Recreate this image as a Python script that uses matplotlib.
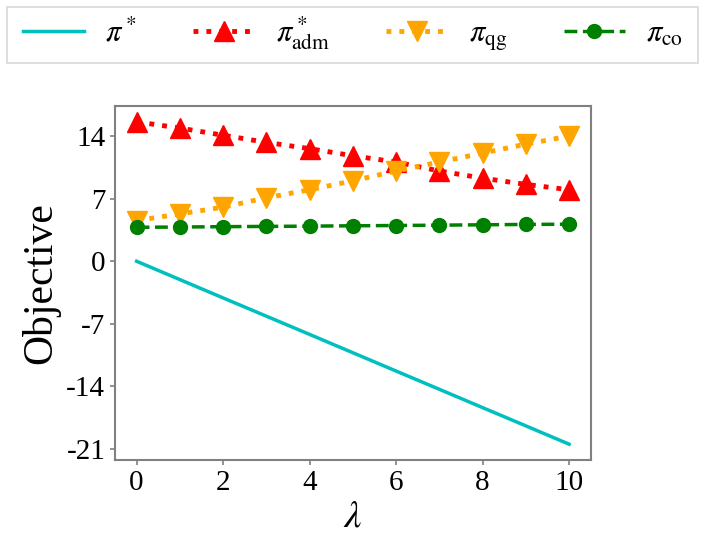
import matplotlib
matplotlib.use('Agg')
import matplotlib.pyplot as plt
from matplotlib.patches import Rectangle

lam = [0, 1, 2, 3, 4, 5, 6, 7, 8, 9, 10]
pi_star = [0, -2.05, -4.1, -6.14, -8.18, -10.23, -12.28, -14.32, -16.37, -18.41, -20.46]
pi_adm = [15.6, 14.9, 14.1, 13.3, 12.6, 11.8, 11.1, 10.1, 9.3, 8.6, 8.0]
pi_qg = [4.55, 5.3, 6.05, 7.1, 8.0, 9.0, 10.1, 11.1, 12.1, 13.1, 14.0]
pi_co = [3.8, 3.83, 3.87, 3.9, 3.93, 3.97, 4.0, 4.04, 4.08, 4.12, 4.15]
yticks = [14, 7, 0, -7, -14, -21]

plt.rcParams['font.family'] = ['Liberation Serif', 'DejaVu Serif']
plt.rcParams['mathtext.fontset'] = 'stix'

W, H = 706, 545
fig = plt.figure(figsize=(W / 100, H / 100), dpi=100)
ax = fig.add_axes([115 / W, 1 - 460.3 / H, (590.7 - 115) / W, (460.3 - 105.7) / H])

ax.plot(lam, pi_star, color='c', lw=2.5, label=r'$\pi^*$')
ax.plot(lam, pi_adm, color='red', ls=':', lw=3.5, marker='^', ms=14, label=r'$\pi^*_{\mathrm{adm}}$')
ax.plot(lam, pi_qg, color='orange', ls=':', lw=3.5, marker='v', ms=14, label=r'$\pi_{\mathrm{qg}}$')
ax.plot(lam, pi_co, color='green', ls='--', lw=2.5, marker='o', ms=10, label=r'$\pi_{\mathrm{co}}$')

ax.set_yticks(yticks)
ax.set_yticklabels([str(v) for v in yticks])
ax.set_xticks([0, 2, 4, 6, 8, 10])
ax.tick_params(labelsize=21, color='gray', length=3.5, width=1.2)
for s in ax.spines.values():
    s.set_color('gray')
    s.set_linewidth(1.5)

ax.set_xlabel(r'$\lambda$', fontsize=28, labelpad=2)
ax.set_ylabel('Objective', fontsize=30, labelpad=4)

# legend box drawn separately so its height matches the original
fig.patches.append(Rectangle((7.3 / W, 1 - 62.7 / H), (698.3 - 7.3) / W, (62.7 - 7.3) / H,
                             transform=fig.transFigure, fill=False, edgecolor='#d8d8d8', lw=1.2))
fig.legend(loc='center', bbox_to_anchor=(352.8 / W, 1 - 33.5 / H), ncol=4, fontsize=22,
           handlelength=2.0, handletextpad=0.7, columnspacing=1.85, frameon=False)

fig.savefig('out.png', dpi=100)
